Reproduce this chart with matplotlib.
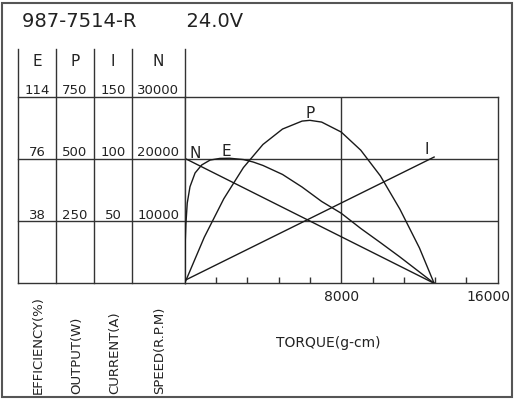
import matplotlib
matplotlib.use('Agg')
import matplotlib.pyplot as plt
from matplotlib import transforms
from matplotlib.patches import Rectangle

# values (torque in g-cm)
title = '987-7514-R        24.0V'

speed_torque = [0, 12750]
speed_rpm = [20100, 0]

current_torque = [0, 12750]
current_amp = [2.3, 101.5]

power_torque = [0, 1000, 2000, 3000, 4000, 5000, 6000, 6400, 7000, 8000,
                9000, 10000, 11000, 12000, 12750]
power_w = [0, 185, 340, 465, 558, 620, 652, 655, 648, 608,
           535, 432, 298, 142, 0]

eff_torque = [0, 30, 60, 130, 270, 530, 870, 1300, 1800, 2300, 3000, 3500,
              4000, 5000, 6000, 7000, 8000, 9000, 10000, 11000, 12000, 12750]
eff_pct = [0, 26, 36, 49, 59, 67.4, 72.3, 75.3, 76.3, 76.4, 75.6, 74.1,
           72.0, 66.5, 58.8, 50.0, 42.8, 33.5, 24.9, 16.1, 6.9, 0]

# scale table on the left
col_names = ['E', 'P', 'I', 'N']
col_max = [114, 750, 150, 30000]
col_labels = [['38', '76', '114'],
              ['250', '500', '750'],
              ['50', '100', '150'],
              ['10000', '20000', '30000']]
col_titles = ['EFFICIENCY(%)', 'OUTPUT(W)', 'CURRENT(A)', 'SPEED(R.P.M)']
speed_levels = [10000, 20000, 30000]
x_ticks = [8000, 16000]

# layout in pixels
W, H = 516, 400
pl, pr, pt, pb = 184.7, 497.7, 96.7, 283.3
col_x = [18, 56, 94, 132, 184.7]
title_x = [38.3, 76.7, 115, 159.7]
ink = '#222222'
line_c = '#333333'

plt.rcParams['font.family'] = 'DejaVu Sans'

fig = plt.figure(figsize=(W / 100, H / 100), dpi=100)
bg = fig.add_axes([0, 0, 1, 1])
bg.set_xlim(0, W)
bg.set_ylim(H, 0)
bg.axis('off')

ax = fig.add_axes([pl / W, 1 - pb / H, (pr - pl) / W, (pb - pt) / H])
ax.set_xlim(0, 16000)
ax.set_ylim(0, 30000)
for s in ax.spines.values():
    s.set_color(line_c)
    s.set_linewidth(1.0)
ax.set_yticks([])
ax.set_xticks(x_ticks)
ax.set_xticklabels([str(t) for t in x_ticks])
ax.set_xticks([1600 * k for k in range(1, 10)], minor=True)
ax.tick_params(axis='x', which='major', length=0, pad=4.5, labelsize=10, labelcolor=ink)
ax.tick_params(axis='x', which='minor', direction='in', length=4.3, width=1.0, color=line_c)
lbl = ax.get_xticklabels()[1]
lbl.set_transform(lbl.get_transform() + transforms.ScaledTranslation(-0.09, 0, fig.dpi_scale_trans))

for v in speed_levels[:2]:
    ax.axhline(v, color=line_c, lw=1.0)
ax.axvline(8000, color=line_c, lw=1.0)

# outer frame
bg.add_patch(Rectangle((2, 3), 510, 394, fill=False, lw=1.5, ec='#555555'))

# table lines: x in pixels, y in speed units
mix = transforms.blended_transform_factory(bg.transData, ax.transData)
for v in [0] + speed_levels:
    bg.plot([col_x[0], pl], [v, v], color=line_c, lw=1.0, transform=mix, clip_on=False)
for x in col_x:
    bg.plot([x, x], [49, pb], color=line_c, lw=1.0, clip_on=False)

# column headers and scale values
lift = transforms.offset_copy(mix, fig=fig, x=0, y=2.5, units='dots')
for i, name in enumerate(col_names):
    cx = (col_x[i] + col_x[i + 1]) / 2
    bg.text(cx, 61, name, ha='center', va='center', fontsize=11, color=ink)
    for v, lab in zip(speed_levels, col_labels[i]):
        bg.text(cx, v, lab, transform=lift, ha='center', va='baseline',
                fontsize=9.5, color=ink)
    bg.text(title_x[i], 394, col_titles[i], rotation=90, ha='center',
            va='bottom', fontsize=9.5, color=ink)

bg.text(22, 26.7, title, ha='left', va='baseline', fontsize=14, color=ink)
bg.text(328, 343, 'TORQUE(g-cm)', ha='center', va='center', fontsize=10, color=ink)

# curves, each on its own scale
axE = ax.twinx()
axP = ax.twinx()
axI = ax.twinx()
for a, top in zip([axE, axP, axI], col_max[:3]):
    a.set_ylim(0, top)
    a.axis('off')

curve_kw = dict(color='#1a1a1a', lw=1.0)
ax.plot(speed_torque, speed_rpm, **curve_kw)
axI.plot(current_torque, current_amp, **curve_kw)
axP.plot(power_torque, power_w, **curve_kw)
axE.plot(eff_torque, eff_pct, **curve_kw)

lab_kw = dict(textcoords='offset pixels', fontsize=11, color=ink, va='baseline')
ax.annotate('N', (speed_torque[0], speed_rpm[0]), xytext=(4.6, 0.3), ha='left', **lab_kw)
ipk = power_w.index(max(power_w))
axP.annotate('P', (power_torque[ipk], power_w[ipk]), xytext=(0, 2.6), ha='center', **lab_kw)
axE.annotate('E', (2000, 76.4), xytext=(2.6, 2.5), ha='center', **lab_kw)
axI.annotate('I', (current_torque[1], current_amp[1]), xytext=(-7, 3.4), ha='center', **lab_kw)

fig.savefig('out.png', dpi=100)
